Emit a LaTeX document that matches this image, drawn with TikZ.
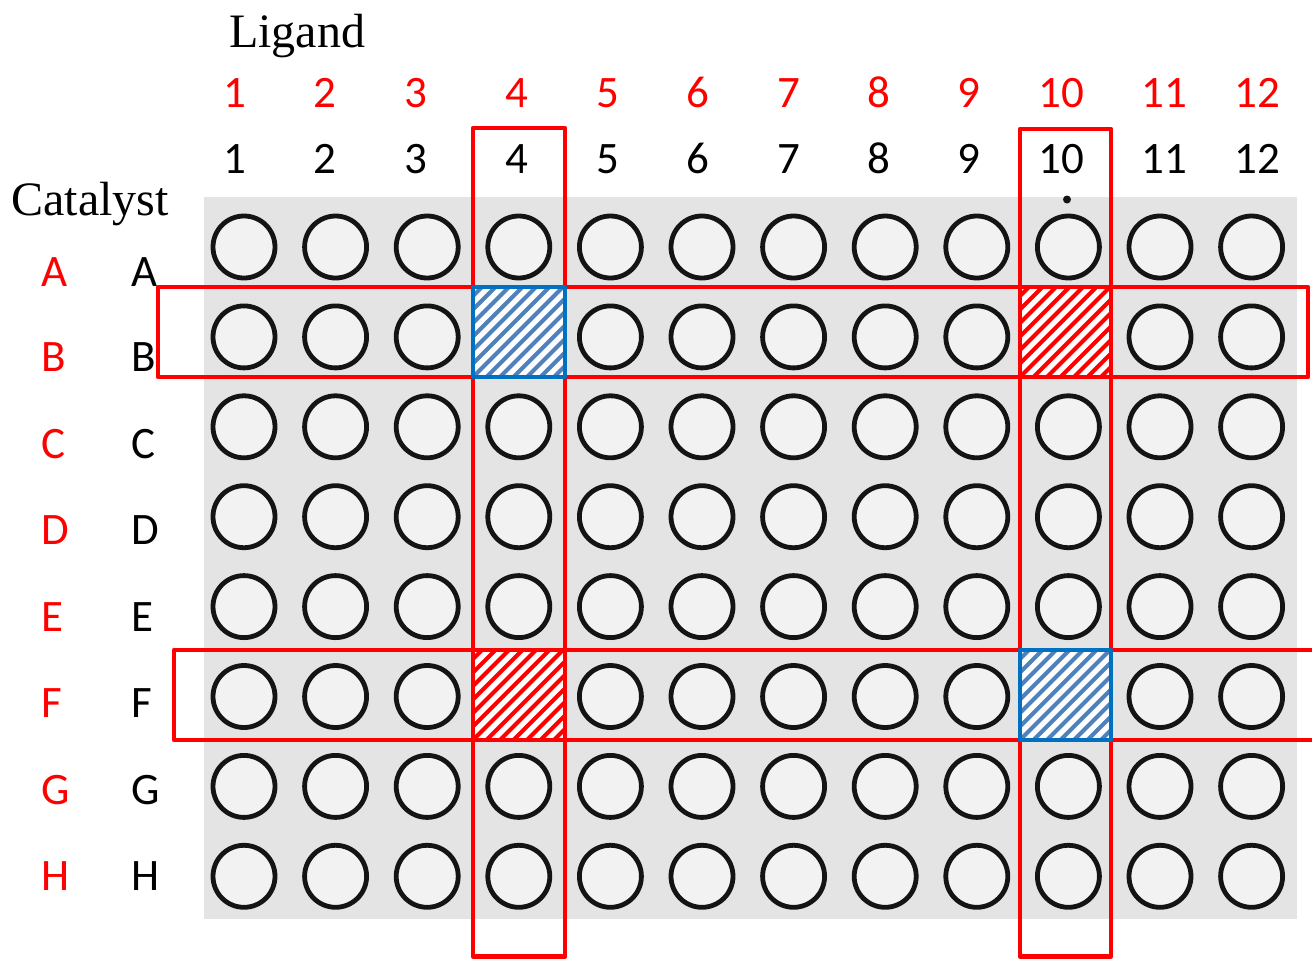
\documentclass[tikz,border=0pt]{standalone}
\usepackage{fontspec}
\setmainfont{Liberation Serif}
\newfontfamily\calfont{Carlito}
\definecolor{plategray}{RGB}{228,228,228}
\definecolor{wellfill}{RGB}{242,242,242}
\definecolor{wellline}{RGB}{20,20,20}
\definecolor{pred}{RGB}{255,0,0}
\definecolor{bborder}{RGB}{0,112,192}
\definecolor{bhatchc}{RGB}{79,129,189}
\tikzset{
  well/.style={circle,draw=wellline,line width=4.8pt,fill=wellfill,minimum size=62pt,inner sep=0pt},
  redlbl/.style={text=pred,font=\calfont\fontsize{45}{50}\selectfont,anchor=base,inner sep=0pt},
  blklbl/.style={text=black,font=\calfont\fontsize{45}{50}\selectfont,anchor=base,inner sep=0pt},
  titlelbl/.style={text=black,font=\fontsize{48}{54}\selectfont,anchor=base,inner sep=0pt},
  redframe/.style={draw=pred,line width=4.6pt,line join=round},
  redhatch/.style={draw=pred,line width=4pt},
  redborder/.style={draw=pred,line width=4.6pt,line join=round},
  bluehatch/.style={draw=bhatchc,line width=4pt},
  blueborder/.style={draw=bborder,line width=4.6pt,line join=round},
}
\newcommand{\hatchcell}[5]{%
  \begin{scope}
    \clip (#1,#2) rectangle (#3,#4);
    \fill[white] (#1,#2) rectangle (#3,#4);
    \foreach \k in {-8,...,8} \draw[#5hatch] ({#1+\k*13.5},#4) -- ++(100,-100);
  \end{scope}
  \draw[#5border] (#1,#2) rectangle (#3,#4);}
\begin{document}
\begin{tikzpicture}[x=1pt,y=-1pt]
\useasboundingbox (0,0) rectangle (1312,959);
% plate
\fill[plategray] (204,197) rectangle (1297,919);
\foreach \i in {0,...,11}
  \foreach \j in {0,...,7}
    \node[well] (w\i-\j) at ({244+\i*91.6},{247+\j*89.9}) {};
\fill[wellline] (1067,199.5) circle (4);
% titles
\node[titlelbl] (ligand) at (297,47) {Ligand};
\node[titlelbl] (catalyst) at (90,215) {Catalyst};
% column numbers
\foreach \n/\x in {1/235,2/325,3/416,4/517,5/608,6/698,7/789,8/879,9/969,10/1061,11/1164,12/1257}{
  \node[redlbl] (rc\n) at (\x,107) {\n};
  \node[blklbl] (bc\n) at (\x,173) {\n};
}
% row letters
\foreach \l/\y in {A/286,B/371,C/458,D/544,E/631,F/717,G/804,H/890}{
  \node[redlbl,anchor=base west] (rr\l) at (41,\y) {\l};
  \node[blklbl,anchor=base west] (br\l) at (131.5,\y) {\l};
}
% red frames
\draw[redframe] (473,128) rectangle (565,956.5);
\draw[redframe] (1020,129) rectangle (1111,956.5);
\draw[redframe] (158,287) rectangle (1308,377);
\draw[redframe] (1316,650) -- (174,650) -- (174,740) -- (1316,740);
% hatched cells
\hatchcell{473}{287}{565}{377}{blue}
\hatchcell{473}{650}{565}{740}{red}
\hatchcell{1020}{287}{1111}{377}{red}
\hatchcell{1020}{650}{1111}{740}{blue}
\end{tikzpicture}
\end{document}
